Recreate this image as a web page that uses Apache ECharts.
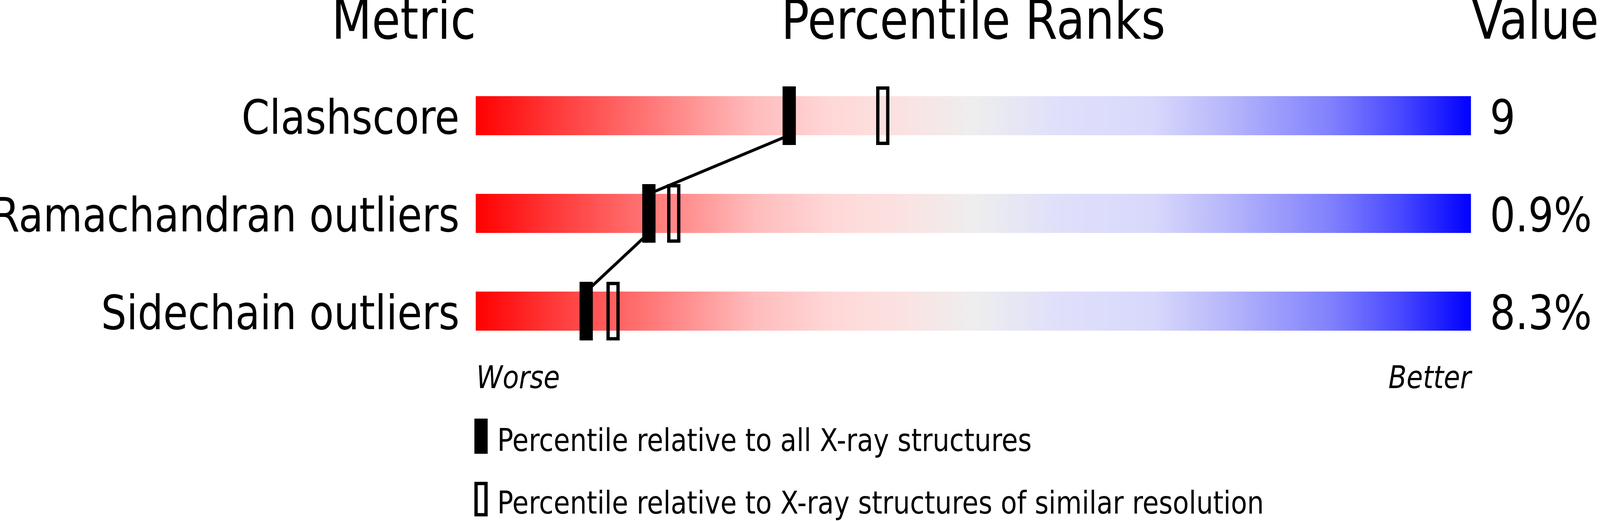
<!DOCTYPE html>
<html>
<head>
    <meta charset="utf-8">
    <title>Percentile Ranks</title>
    <script src="https://cdn.jsdelivr.net/npm/echarts@6/dist/echarts.min.js"></script>
    <style>
        html, body {margin: 0; padding: 0; background: #fff; overflow: hidden;}
        #main {width: 100vw; height: 100vh;}
    </style>
</head>
<body>
<div id="main"></div>
<script type="text/javascript">

    /* data ========================================== */
    var metrics = ['Clashscore', 'Ramachandran outliers', 'Sidechain outliers'];
    var valueLabels = ['9', '0.9%', '8.3%'];
    // percentile vs all X-ray structures (filled marker)
    var pctAll = [31.5, 17.4, 11.1];
    // percentile vs structures of similar resolution (open marker)
    var pctSimilar = [40.9, 19.9, 13.8];
    var sliderMax = [100, 100, 100];

    var FONT = '"DejaVu Sans", "Noto Sans", sans-serif';

    var dom = document.getElementById('main');
    var myChart = echarts.init(dom);

    // layout is worked out on a 4823 x 1333 canvas, then scaled to the window
    var sx = myChart.getWidth() / 4823;
    var sy = myChart.getHeight() / 1333;
    var s = Math.min(sx, sy);

    // red -> pale -> grey -> lavender -> blue
    var sliderGradient = new echarts.graphic.LinearGradient(0, 0, 1, 0, [
        {offset: 0, color: '#ff0000'},
        {offset: 0.08, color: '#ff3a3a'},
        {offset: 0.18, color: '#ff7a7a'},
        {offset: 0.28, color: '#ffbcbc'},
        {offset: 0.36, color: '#ffd8d8'},
        {offset: 0.43, color: '#fbe2e2'},
        {offset: 0.5, color: '#eeeeee'},
        {offset: 0.58, color: '#e0e0fa'},
        {offset: 0.68, color: '#d8d8fc'},
        {offset: 0.76, color: '#b4b4fb'},
        {offset: 0.86, color: '#8080fd'},
        {offset: 0.93, color: '#4848ff'},
        {offset: 1, color: '#0000ff'}
    ]);

    var markerData = metrics.map(function (m, i) {
        return [pctAll[i], i, pctSimilar[i]];
    });
    var linkData = [];
    for (var i = 1; i < metrics.length; i++) {
        linkData.push([pctAll[i - 1], i - 1, pctAll[i], i]);
    }
    var rowData = metrics.map(function (m, i) {
        return [0, i, 100];
    });

    // text element sized on the 4823 x 1333 design, stretched like the rest
    function textEl(text, x, y, size, align, italic) {
        return {
            type: 'text',
            x: x,
            y: y,
            scaleX: sx / sy,
            scaleY: 1,
            style: {
                text: text,
                fill: '#000',
                font: (italic ? 'italic ' : '') + (size * sy) + 'px ' + FONT,
                textAlign: align,
                textVerticalAlign: 'middle'
            }
        };
    }

    function txt(text, x, y, size, align, italic) {
        return textEl(text, x * sx, y * sy, size, align, italic);
    }

    myChart.setOption({
        animation: false,
        backgroundColor: '#fff',
        grid: {
            left: 1434 * sx,
            right: 389 * sx,
            top: 171 * sy,
            bottom: 412 * sy,
            containLabel: false,
            outerBoundsMode: 'none'
        },
        xAxis: {
            type: 'value',
            min: 0,
            max: 100,
            show: false
        },
        yAxis: {
            type: 'category',
            data: metrics,
            inverse: true,
            show: false
        },
        series: [
            {
                type: 'bar',
                data: sliderMax,
                barWidth: '40%',
                silent: true,
                z: 2,
                itemStyle: {color: sliderGradient}
            },
            {
                // connecting line between the filled markers
                type: 'custom',
                data: linkData,
                silent: true,
                z: 3,
                renderItem: function (params, api) {
                    var p1 = api.coord([api.value(0), api.value(1)]);
                    var p2 = api.coord([api.value(2), api.value(3)]);
                    var half = api.size([0, 1])[1] * 0.2;
                    return {
                        type: 'line',
                        shape: {x1: p1[0], y1: p1[1] + half, x2: p2[0], y2: p2[1] - half},
                        style: {stroke: '#000', lineWidth: 9 * s}
                    };
                }
            },
            {
                type: 'custom',
                data: markerData,
                silent: true,
                z: 4,
                renderItem: function (params, api) {
                    var pa = api.coord([api.value(0), api.value(1)]);
                    var ps = api.coord([api.value(2), api.value(1)]);
                    var h = api.size([0, 1])[1] * 0.6;
                    var w = 40 * sx, b = 10 * s;
                    return {
                        type: 'group',
                        children: [
                            {
                                type: 'rect',
                                shape: {x: ps[0] - w / 2 + b / 2, y: ps[1] - h / 2 + b / 2, width: w - b, height: h - b},
                                style: {fill: 'none', stroke: '#000', lineWidth: b}
                            },
                            {
                                type: 'rect',
                                shape: {x: pa[0] - w / 2, y: pa[1] - h / 2, width: w, height: h},
                                style: {fill: '#000'}
                            }
                        ]
                    };
                }
            },
            {
                // metric names on the left, values on the right of each slider
                type: 'custom',
                data: rowData,
                silent: true,
                z: 5,
                renderItem: function (params, api) {
                    var idx = api.value(1);
                    var pl = api.coord([api.value(0), idx]);
                    var pr = api.coord([api.value(2), idx]);
                    var dy = 15 * sy;
                    return {
                        type: 'group',
                        children: [
                            textEl(metrics[idx], pl[0] - 49 * sx, pl[1] + dy, 121, 'right'),
                            textEl(valueLabels[idx], pr[0] + 57 * sx, pr[1] + dy, 121, 'left')
                        ]
                    };
                }
            }
        ],
        graphic: [
            txt('Metric', 1435, 63, 140, 'right'),
            txt('Percentile Ranks', 2934, 63, 140, 'center'),
            txt('Value', 4435, 63, 140, 'left'),
            txt('Worse', 1436, 972, 80, 'left', true),
            txt('Better', 4434, 972, 80, 'right', true),
            {
                type: 'rect',
                shape: {x: 1430 * sx, y: 1071 * sy, width: 40 * sx, height: 90 * sy},
                style: {fill: '#000'}
            },
            txt('Percentile relative to all X-ray structures', 1499, 1133, 80, 'left'),
            {
                type: 'rect',
                shape: {x: 1435 * sx, y: 1237 * sy, width: 30 * sx, height: 80 * sy},
                style: {fill: 'none', stroke: '#000', lineWidth: 10 * s}
            },
            txt('Percentile relative to X-ray structures of similar resolution', 1499, 1293, 80, 'left')
        ]
    });

</script>
</body>
</html>
